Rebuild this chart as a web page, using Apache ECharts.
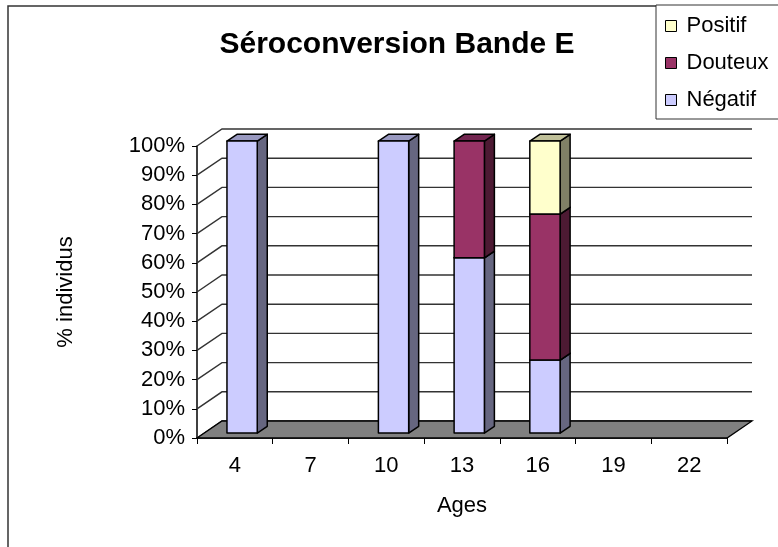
<!DOCTYPE html>
<html>
<head>
<meta charset="utf-8">
<script src="https://cdn.jsdelivr.net/npm/echarts@6/dist/echarts.min.js"></script>
<style>
  html, body { margin: 0; padding: 0; background: #fff; }
  #main { width: 778px; height: 547px; }
</style>
</head>
<body>
<div id="main"></div>
<script>
// data (share of individuals per age)
var ages = ['4', '7', '10', '13', '16', '19', '22'];
var negatif = [1, 0, 1, 0.6, 0.25, 0, 0];
var douteux = [0, 0, 0, 0.4, 0.5, 0, 0];
var positif = [0, 0, 0, 0, 0.25, 0, 0];
var yTicks = [0, 0.1, 0.2, 0.3, 0.4, 0.5, 0.6, 0.7, 0.8, 0.9, 1];

// fake 3d depth of the plot (like excel)
var DX = 25, DY = -17;
var FONT = 'Liberation Sans, Arial, sans-serif';

function stackRows(vals, below) {
  var rows = [];
  for (var i = 0; i < vals.length; i++) {
    var lo = 0;
    for (var k = 0; k < below.length; k++) lo += below[k][i];
    rows.push([i, lo, lo + vals[i]]);
  }
  return rows;
}

function renderBar(front, side, top) {
  return function (params, api) {
    var ci = api.value(0), lo = api.value(1), hi = api.value(2);
    if (hi - lo <= 0) return;
    var band = api.size([1, 0])[0];
    var w = band * 0.4;
    var pLo = api.coord([ci, lo]);
    var pHi = api.coord([ci, hi]);
    var ox = DX * 0.29, oy = DY * 0.29;
    var dx = DX * 0.4, dy = DY * 0.4;
    var x0 = pLo[0] + ox - w / 2, x1 = x0 + w;
    var yb = pLo[1] + oy, yt = pHi[1] + oy;
    var st = { stroke: '#000', lineWidth: 1.5, lineJoin: 'round' };
    return {
      type: 'group',
      children: [
        { type: 'polygon', shape: { points: [[x1, yb], [x1 + dx, yb + dy], [x1 + dx, yt + dy], [x1, yt]] },
          style: Object.assign({ fill: side }, st) },
        { type: 'polygon', shape: { points: [[x0, yt], [x1, yt], [x1 + dx, yt + dy], [x0 + dx, yt + dy]] },
          style: Object.assign({ fill: top }, st) },
        { type: 'rect', shape: { x: x0, y: yt, width: w, height: yb - yt },
          style: Object.assign({ fill: front }, st) }
      ]
    };
  };
}

var chart = echarts.init(document.getElementById('main'));

chart.setOption({
  animation: false,
  backgroundColor: '#fff',
  textStyle: { fontFamily: FONT },
  graphic: [
    { type: 'rect', shape: { x: 8, y: 6, width: 900, height: 700 },
      style: { fill: 'none', stroke: '#333', lineWidth: 1.5 }, z: 0 },
    { type: 'rect', shape: { x: 656, y: 5, width: 200, height: 114 },
      style: { fill: '#fff', stroke: '#333', lineWidth: 1 }, z: 1 },
    { type: 'text', x: 397, y: 45,
      style: { text: 'Séroconversion Bande E', font: 'bold 30px ' + FONT, fill: '#000',
        align: 'center', verticalAlign: 'middle' } }
  ],
  legend: {
    orient: 'vertical', left: 665, top: 15, padding: 0,
    itemWidth: 11, itemHeight: 11, itemGap: 15, icon: 'rect',
    textStyle: { fontSize: 22, lineHeight: 22, color: '#000', padding: [0, 0, 0, 5] },
    data: [
      { name: 'Positif', itemStyle: { color: '#FFFFCC', borderColor: '#000', borderWidth: 1 } },
      { name: 'Douteux', itemStyle: { color: '#993366', borderColor: '#000', borderWidth: 1 } },
      { name: 'Négatif', itemStyle: { color: '#CCCCFF', borderColor: '#000', borderWidth: 1 } }
    ],
    z: 5
  },
  grid: { left: 197, right: 51, top: 146, bottom: 109 },
  xAxis: {
    type: 'category', data: ages, boundaryGap: true,
    name: 'Ages', nameLocation: 'middle', nameGap: 57,
    nameTextStyle: { fontSize: 22, color: '#000' },
    axisLine: { show: true, lineStyle: { color: '#000', width: 1.5 } },
    axisTick: { show: true, length: 6, lineStyle: { color: '#000' } },
    axisLabel: { fontSize: 22, color: '#000', margin: 17 },
    splitLine: { show: false }
  },
  yAxis: {
    type: 'value', min: 0, max: 1, interval: 0.1,
    name: '% individus', nameLocation: 'middle', nameGap: 120, nameRotate: 90,
    nameTextStyle: { fontSize: 22, color: '#000' },
    axisLine: { show: true, lineStyle: { color: '#000', width: 1.5 } },
    axisTick: { show: true, length: 5, lineStyle: { color: '#000' } },
    axisLabel: { fontSize: 22, color: '#000', margin: 12,
      formatter: function (v) { return Math.round(v * 100) + '%'; } },
    splitLine: { show: false }
  },
  series: [
    {
      // back wall gridlines
      type: 'custom', name: 'grid3d', silent: true, z: 1,
      data: yTicks.map(function (v) { return [0, v]; }),
      encode: { x: 0, y: 1 },
      renderItem: function (params, api) {
        var cs = params.coordSys;
        var y = api.coord([0, api.value(1)])[1];
        return {
          type: 'polyline',
          shape: { points: [[cs.x, y], [cs.x + DX, y + DY], [cs.x + cs.width + DX, y + DY]] },
          style: { stroke: '#333', lineWidth: 1.4, fill: null }
        };
      }
    },
    {
      // floor
      type: 'custom', name: 'floor', silent: true, z: 2,
      data: [[0, 0]],
      encode: { x: 0, y: 1 },
      renderItem: function (params, api) {
        var cs = params.coordSys;
        var y = api.coord([0, 0])[1];
        var xl = cs.x, xr = cs.x + cs.width;
        return {
          type: 'polygon',
          shape: { points: [[xl, y], [xr, y], [xr + DX, y + DY], [xl + DX, y + DY]] },
          style: { fill: '#808080', stroke: '#000', lineWidth: 1.3 }
        };
      }
    },
    {
      type: 'custom', name: 'Négatif', z: 3,
      itemStyle: { color: '#CCCCFF' },
      data: stackRows(negatif, []),
      encode: { x: 0, y: [1, 2] },
      renderItem: renderBar('#CCCCFF', '#666680', '#9999C0')
    },
    {
      type: 'custom', name: 'Douteux', z: 3,
      itemStyle: { color: '#993366' },
      data: stackRows(douteux, [negatif]),
      encode: { x: 0, y: [1, 2] },
      renderItem: renderBar('#993366', '#4D1A33', '#732650')
    },
    {
      type: 'custom', name: 'Positif', z: 3,
      itemStyle: { color: '#FFFFCC' },
      data: stackRows(positif, [negatif, douteux]),
      encode: { x: 0, y: [1, 2] },
      renderItem: renderBar('#FFFFCC', '#808066', '#C0C099')
    }
  ]
});
</script>
</body>
</html>
